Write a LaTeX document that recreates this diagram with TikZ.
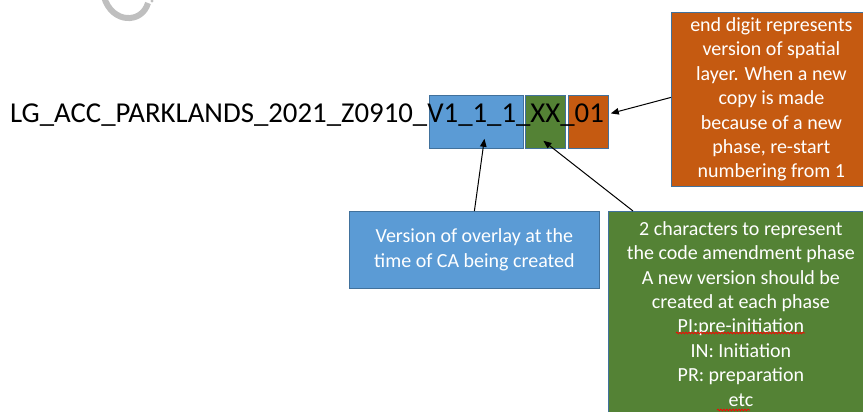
\documentclass[tikz,border=0pt]{standalone}
\usepackage{fontspec}
\setmainfont{Carlito}
\usetikzlibrary{arrows.meta,decorations.pathmorphing}
\definecolor{cblue}{HTML}{5B9BD5}
\definecolor{cgreen}{HTML}{548235}
\definecolor{corange}{HTML}{C55A11}
\definecolor{cedge}{HTML}{41719C}
\begin{document}
\begin{tikzpicture}[x=1pt,y=-1pt,
  box/.style={draw=cedge, line width=0.8pt, inner sep=0pt, anchor=north west},
  note/.style={text=white, font=\fontsize{20}{24.4}\selectfont, align=center},
  arr/.style={-{Triangle[length=8pt,width=6.5pt]}, line width=1pt, black},
  squig/.style={red, line width=0.7pt, decorate, decoration={snake, segment length=3pt, amplitude=0.9pt}}]
\useasboundingbox (0,0) rectangle (863,412);
% watermark fragment
\draw[line width=6pt, black!25] (104,-3) .. controls (112,24) and (142,24) .. (148,3);
\fill[black!25] (152,1) circle (1.6);
% small boxes
\node[box, fill=cblue, minimum width=94pt, minimum height=53pt] (sb) at (429,95) {};
\node[box, fill=cgreen, minimum width=40pt, minimum height=53pt] (sg) at (525,95) {};
\node[box, fill=corange, minimum width=40pt, minimum height=53pt] (so) at (568,95) {};
% file name
\node[anchor=base west, inner sep=0pt, font=\fontsize{28.8}{34}\selectfont] (fn) at (10,123)
  {LG\_ACC\_PARKLANDS\_2021\_Z0910\_V1\_1\_1\_XX\_01};
% big boxes
\node[box, note, fill=corange, minimum width=200pt, minimum height=174pt] (bo) at (671,12)
  {end digit represents\\version of spatial\\layer. When a new\\copy is made\\because of a new\\phase, re-start\\numbering from 1};
\node[box, note, fill=cblue, minimum width=250pt, minimum height=77pt] (bb) at (349,211)
  {Version of overlay at the\\time of CA being created};
\node[box, note, fill=cgreen, minimum width=265pt, minimum height=205pt] (bg) at (608,211)
  {2 characters to represent\\the code amendment phase\\A new version should be\\created at each phase\\PI:pre-initiation\\IN: Initiation\\PR: preparation\\etc};
% spell-check marks
\draw[squig] (676,333) -- (805,333);
\draw[squig] (717,410) -- (750,410);
% arrows
\draw[arr] ([yshift=2pt]bo.west) -- ([xshift=2pt,yshift=8.5pt]so.east);
\draw[arr] (bb.north) -- ([xshift=8pt,yshift=10pt]sb.south);
\draw[arr] ([xshift=25pt]bg.north west) -- ([xshift=-2pt,yshift=8pt]sg.south);
\end{tikzpicture}
\end{document}
